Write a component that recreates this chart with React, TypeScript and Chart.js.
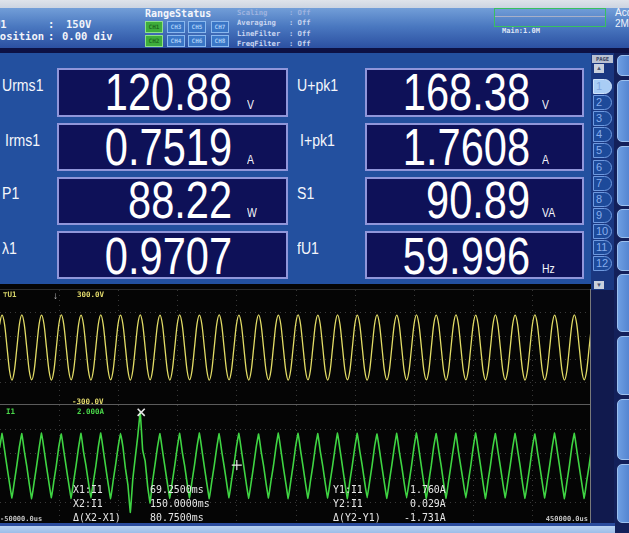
import React, { useEffect, useRef } from "react";
import { Chart, registerables } from "chart.js";
Chart.register(...registerables);

// ---------- sampling grid (60 Hz, 8 samples / cycle) ----------
const SAMPLE_START_US = -52400;
const SAMPLE_STEP_US = 2083.3;
const X_MIN_US = -50000;
const X_MAX_US = 450000;
const X_TICK_STEP_US = 50000;

// ---------- waveform U1 (V) ----------
const VOLTAGE_U1 = [
  0, 119, 169, 121, 1, -120, -170, -119,
  -1, 120, 170, 119, 0, -121, -169, -120,
  1, 121, 169, 120, -1, -119, -170, -121,
  0, 120, 170, 121, 1, -120, -169, -119,
  -1, 119, 169, 120, 0, -121, -170, -120,
  1, 120, 170, 119, -1, -120, -169, -121,
  0, 121, 169, 120, 1, -119, -170, -120,
  -1, 120, 170, 121, 0, -120, -169, -119,
  1, 119, 169, 120, -1, -121, -170, -120,
  0, 120, 170, 119, 1, -120, -169, -121,
  -1, 121, 169, 120, 0, -119, -170, -120,
  1, 120, 170, 121, -1, -120, -169, -119,
  0, 119, 169, 120, 1, -121, -170, -120,
  -1, 120, 170, 119, 0, -120, -169, -121,
  1, 121, 169, 120, -1, -119, -170, -120,
  0, 120, 170, 121, 1, -120, -169, -119,
  -1, 119, 169, 120, 0, -121, -170, -120,
  1, 120, 170, 119, -1, -120, -169, -121,
  0, 121, 169, 120, 1, -119, -170, -120,
  -1, 120, 170, 121, 0, -120, -169, -119,
  1, 119, 169, 120, -1, -121, -170, -120,
  0, 120, 170, 119, 1, -120, -169, -121,
  -1, 121, 169, 120, 0, -119, -170, -120,
  1, 120, 170, 121, -1, -120, -169, -119,
  0, 119, 169, 120, 1, -121, -170, -120,
  -1, 120, 170, 119, 0, -120, -169, -121,
  1, 121, 169, 120, -1, -119, -170, -120,
  0, 120, 170, 121, 1, -120, -169, -119,
  -1, 119, 169, 120, 0, -121, -170, -120,
  1, 120, 170, 119, -1, -120, -169, -121,
  0, 120,
];

// ---------- waveform I1 (A) ----------
const CURRENT_I1 = [
  0.02, 0.60, 1.07, 0.52, -0.03, -0.56, -1.05, -0.50,
  0.04, 0.63, 1.06, 0.49, 0.00, -0.58, -1.07, -0.53,
  0.01, 0.59, 1.08, 0.54, -0.02, -0.55, -1.04, -0.49,
  0.03, 0.64, 1.05, 0.50, -0.04, -0.57, -1.06, -0.51,
  0.02, 0.61, 1.07, 0.47, 0.01, -0.54, -1.05, -0.52,
  0.00, 0.62, 1.08, 0.53, -0.03, -0.58, -1.07, -0.50,
  0.03, 0.60, 1.07, 0.62, -0.08, -0.62, -1.52, -0.42,
  0.28, 0.98, 1.76, 0.52, 0.16, -0.66, -1.21, -0.50,
  0.05, 0.63, 1.06, 0.51, -0.02, -0.56, -1.06, -0.52,
  0.02, 0.60, 1.07, 0.48, 0.01, -0.55, -1.05, -0.50,
  0.03, 0.62, 1.08, 0.53, -0.03, -0.57, -1.07, -0.51,
  0.01, 0.59, 1.06, 0.50, 0.00, -0.54, -1.04, -0.49,
  0.04, 0.63, 1.07, 0.52, -0.02, -0.58, -1.06, -0.53,
  0.02, 0.61, 1.05, 0.49, 0.01, -0.56, -1.05, -0.50,
  0.00, 0.60, 1.08, 0.54, -0.03, -0.55, -1.07, -0.52,
  0.03, 0.64, 1.07, 0.51, -0.01, -0.57, -1.06, -0.50,
  0.02, 0.62, 1.06, 0.48, 0.00, -0.56, -1.05, -0.51,
  0.01, 0.59, 1.08, 0.53, -0.02, -0.58, -1.07, -0.49,
  0.04, 0.61, 1.07, 0.50, 0.01, -0.54, -1.04, -0.52,
  0.02, 0.63, 1.05, 0.52, -0.03, -0.57, -1.06, -0.50,
  0.03, 0.60, 1.07, 0.49, 0.00, -0.55, -1.05, -0.53,
  0.01, 0.62, 1.08, 0.54, -0.02, -0.58, -1.07, -0.51,
  0.02, 0.64, 1.06, 0.51, 0.01, -0.56, -1.06, -0.50,
  0.04, 0.59, 1.07, 0.48, -0.03, -0.54, -1.05, -0.52,
  0.00, 0.61, 1.08, 0.53, 0.00, -0.57, -1.07, -0.49,
  0.03, 0.63, 1.06, 0.50, -0.01, -0.56, -1.04, -0.51,
  0.02, 0.60, 1.07, 0.52, 0.01, -0.58, -1.06, -0.53,
  0.01, 0.62, 1.05, 0.49, -0.02, -0.55, -1.05, -0.50,
  0.03, 0.61, 1.08, 0.54, 0.00, -0.57, -1.07, -0.52,
  0.02, 0.64, 1.07, 0.51, -0.03, -0.56, -1.06, -0.50,
  0.02, 0.61,
];

// ---------- cursors ----------
const CURSOR_X_MS = [69.25, 150.0];
const CURSOR_Y_A = [1.76, 0.029];

// ---------- numeric display ----------
const LEFT_LABELS = ["Urms1", "Irms1", "P1", "\u03bb1"];
const LEFT_VALUES = ["120.88", "0.7519", "88.22", "0.9707"];
const LEFT_UNITS = ["V", "A", "W", ""];
const RIGHT_LABELS = ["U+pk1", "I+pk1", "S1", "fU1"];
const RIGHT_VALUES = ["168.38", "1.7608", "90.89", "59.996"];
const RIGHT_UNITS = ["V", "A", "VA", "Hz"];
const PAGE_NUMBERS = ["1", "2", "3", "4", "5", "6", "7", "8", "9", "10", "11", "12"];
const CHANNELS = [["CH1", "CH3", "CH5", "CH7"], ["CH2", "CH4", "CH6", "CH8"]];
const STATUS_LINES = ["Scaling     : Off", "Averaging   : Off", "LineFilter  : Off", "FreqFilter  : Off"];

const MONO = '"DejaVu Sans Mono", monospace';
const SANS = '"Liberation Sans", Arial, sans-serif';

type WaveProps = {
  values: number[];
  color: string;
  lineWidth: number;
  yMin: number;
  yMax: number;
  yStep: number;
  left: number;
  top: number;
  width: number;
  height: number;
  monotone: boolean;
  withCursors?: boolean;
};

function WaveChart(p: WaveProps) {
  const ref = useRef<HTMLCanvasElement>(null);
  useEffect(() => {
    const data = p.values.map((v, i) => ({ x: SAMPLE_START_US + i * SAMPLE_STEP_US, y: v }));
    const gridColor = (min: number, max: number) => (c: any) => {
      const v = c.tick ? c.tick.value : null;
      if (v === null || v === min || v === max) return "rgba(0,0,0,0)";
      return "rgba(140,140,140,0.38)";
    };
    const datasets: any[] = [
      {
        data,
        borderColor: p.color,
        borderWidth: p.lineWidth,
        pointRadius: 0,
        fill: false,
        tension: p.monotone ? 0.4 : 0.08,
        cubicInterpolationMode: p.monotone ? "monotone" : "default",
        order: 2,
      },
    ];
    if (p.withCursors) {
      datasets.push({
        data: [{ x: CURSOR_X_MS[0] * 1000, y: CURSOR_Y_A[0] }],
        showLine: false,
        pointStyle: "crossRot",
        pointRadius: 5,
        pointBorderWidth: 1.6,
        pointBorderColor: "#e8e8e8",
        borderColor: "#e8e8e8",
        order: 1,
      });
      datasets.push({
        data: [{ x: CURSOR_X_MS[1] * 1000, y: CURSOR_Y_A[1] }],
        showLine: false,
        pointStyle: "cross",
        pointRadius: 5,
        pointBorderWidth: 1.2,
        pointBorderColor: "#e8e8e8",
        borderColor: "#e8e8e8",
        order: 1,
      });
    }
    const chart = new Chart(ref.current as HTMLCanvasElement, {
      type: "line",
      data: { datasets },
      options: {
        animation: false,
        responsive: false,
        devicePixelRatio: 1,
        events: [],
        layout: { padding: 0, autoPadding: false } as any,
        plugins: { legend: { display: false }, tooltip: { enabled: false } },
        scales: {
          x: {
            type: "linear",
            min: X_MIN_US,
            max: X_MAX_US,
            ticks: { display: false, stepSize: X_TICK_STEP_US },
            grid: { color: gridColor(X_MIN_US, X_MAX_US), drawTicks: false, lineWidth: 1 },
            border: { display: false, dash: [1, 4] },
            afterFit: (s: any) => {
              s.height = 0;
            },
          },
          y: {
            type: "linear",
            min: p.yMin,
            max: p.yMax,
            ticks: { display: false, stepSize: p.yStep },
            grid: { color: gridColor(p.yMin, p.yMax), drawTicks: false, lineWidth: 1 },
            border: { display: false, dash: [1, 4] },
            afterFit: (s: any) => {
              s.width = 0;
            },
          },
        },
      } as any,
    });
    return () => chart.destroy();
  }, []);
  return (
    <canvas
      ref={ref}
      width={p.width}
      height={p.height}
      style={{ position: "absolute", left: p.left, top: p.top, width: p.width, height: p.height }}
    />
  );
}

function Txt(props: {
  x: number;
  base: number;
  size: number;
  color: string;
  font?: string;
  weight?: number | string;
  sx?: number;
  children: React.ReactNode;
  right?: boolean;
  z?: number;
}) {
  const top = props.base - 0.846 * props.size;
  const style: React.CSSProperties = {
    position: "absolute",
    top,
    fontSize: props.size,
    lineHeight: props.size + "px",
    color: props.color,
    fontFamily: props.font || SANS,
    fontWeight: (props.weight as any) || 400,
    whiteSpace: "pre",
    transform: props.sx ? `scaleX(${props.sx})` : undefined,
    transformOrigin: props.right ? "right" : "left",
    zIndex: props.z || 5,
  };
  if (props.right) {
    style.right = 629 - props.x;
    style.textAlign = "right";
  } else {
    style.left = props.x;
  }
  return <div style={style}>{props.children}</div>;
}

function Box(props: { x: number; y: number; w: number; h: number; style?: React.CSSProperties; children?: React.ReactNode }) {
  return (
    <div
      style={{
        position: "absolute",
        left: props.x,
        top: props.y,
        width: props.w,
        height: props.h,
        boxSizing: "border-box",
        ...props.style,
      }}
    >
      {props.children}
    </div>
  );
}

const BOX_TOPS = [68, 123, 177, 231];
const BOX_H = [49, 48, 48, 48];
const VALUE_BASE = [110, 165, 218, 274];
const LABEL_BASE = [92, 147, 200, 255];

function Header() {
  return (
    <>
      <Box x={0} y={0} w={629} h={9} style={{ background: "linear-gradient(#dfe3ea,#c9d2e0)" }} />
      <Box x={0} y={8} w={629} h={41} style={{ background: "linear-gradient(#729ed8 0%,#4a78c0 45%,#2a4ea0 100%)" }} />
      <Box x={0} y={48} w={629} h={5} style={{ background: "#0d1144" }} />
      <Txt x={-6} base={28} size={10.5} color="#f2f4fa" font={MONO} weight={700}>U1</Txt>
      <Txt x={48} base={28} size={10.5} color="#f2f4fa" font={MONO} weight={700}>:</Txt>
      <Txt x={66} base={28} size={10.5} color="#f2f4fa" font={MONO} weight={700}>150V</Txt>
      <Txt x={-6.5} base={40} size={10.5} color="#f2f4fa" font={MONO} weight={700}>Position</Txt>
      <Txt x={48} base={40} size={10.5} color="#f2f4fa" font={MONO} weight={700}>:</Txt>
      <Txt x={62} base={40} size={10.5} color="#f2f4fa" font={MONO} weight={700}>0.00 div</Txt>
      <Txt x={145} base={17} size={10} color="#f4f6fb" font={MONO} weight={700}>RangeStatus</Txt>
      {CHANNELS.map((row, r) =>
        row.map((ch, c) => {
          const on = c === 0;
          return (
            <Box
              key={ch}
              x={[145, 167, 188, 211][c]}
              y={[21, 35][r]}
              w={18}
              h={12}
              style={{
                background: on ? "#3eae3c" : "#3a76c6",
                border: on ? "1px solid #8fe08a" : "1px solid #8ab8ee",
                fontFamily: MONO,
                fontSize: 6,
                lineHeight: "10px",
                color: on ? "#1e6a20" : "#a8cdf6",
                textAlign: "center",
                fontWeight: 700,
              }}
            >
              {ch}
            </Box>
          );
        })
      )}
      {STATUS_LINES.map((s, i) => (
        <Txt key={s} x={237} base={15 + i * 10.3} size={7.2} color={i === 0 ? "#9fb4e0" : "#c9d5f0"} font={MONO} weight={700}>
          {s}
        </Txt>
      ))}
      <Box x={494} y={8} w={112} h={19} style={{ border: "1px solid #38c060" }} />
      <Box x={495} y={16} w={110} h={1} style={{ background: "#a8b0c8" }} />
      <Txt x={502} base={34} size={7} color="#dfe6f6" font={MONO} weight={700}>Main:1.0M</Txt>
      <Txt x={615} base={16} size={10} color="#f0f3fa" font={SANS}>Acq</Txt>
      <Txt x={615} base={27} size={10} color="#f0f3fa" font={SANS}>2M</Txt>
    </>
  );
}

function MeasurePanel() {
  return (
    <>
      <Box x={0} y={53} w={592} h={232} style={{ background: "#23509f" }} />
      {LEFT_LABELS.map((lab, i) => (
        <React.Fragment key={"L" + i}>
          <Txt x={i === 1 ? 5 : 2} base={LABEL_BASE[i]} size={16} color="#f4f6fb" sx={0.88}>{lab}</Txt>
          <Box x={57} y={BOX_TOPS[i]} w={231} h={BOX_H[i]} style={{ background: "#0e1158", border: "2px solid #9096da" }} />
          <Txt x={232} base={VALUE_BASE[i]} size={52} color="#ffffff" sx={0.8} right>{LEFT_VALUES[i]}</Txt>
          <Txt x={247} base={VALUE_BASE[i] - 1} size={13} color="#f4f6fb" sx={0.8}>{LEFT_UNITS[i]}</Txt>
        </React.Fragment>
      ))}
      {RIGHT_LABELS.map((lab, i) => (
        <React.Fragment key={"R" + i}>
          <Txt x={i === 1 ? 300 : 297} base={LABEL_BASE[i]} size={16} color="#f4f6fb" sx={0.88}>{lab}</Txt>
          <Box x={365} y={BOX_TOPS[i]} w={219} h={BOX_H[i]} style={{ background: "#0e1158", border: "2px solid #9096da" }} />
          <Txt x={530} base={VALUE_BASE[i]} size={52} color="#ffffff" sx={0.8} right>{RIGHT_VALUES[i]}</Txt>
          <Txt x={542} base={VALUE_BASE[i] - 1} size={13} color="#f4f6fb" sx={0.8}>{RIGHT_UNITS[i]}</Txt>
        </React.Fragment>
      ))}
    </>
  );
}

function PageColumn() {
  return (
    <>
      <Box x={591} y={53} w={23} h={237} style={{ background: "#1a3780" }} />
      <Box x={592} y={55} w={21} h={8} style={{ background: "#b9c1d2", fontSize: 5.5, fontFamily: MONO, lineHeight: "8px", color: "#3a4460", textAlign: "center", fontWeight: 700 }}>
        PAGE
      </Box>
      <Box x={594} y={64} w={10} h={9} style={{ background: "#c8d0dd", fontSize: 6, lineHeight: "9px", color: "#4a5570", textAlign: "center" }}>
        ▲
      </Box>
      {PAGE_NUMBERS.map((n, i) => {
        const sel = i === 0;
        return (
          <Box
            key={n}
            x={593}
            y={Math.round(79 + i * 16.1)}
            w={19}
            h={15}
            style={{
              background: sel ? "#a9cdf5" : "#1d4a9a",
              border: sel ? "1px solid #cfe3fb" : "1px solid #6f9ae0",
              borderRadius: "0 8px 8px 0",
              fontFamily: SANS,
              fontSize: 11,
              lineHeight: "13px",
              color: sel ? "#7fa3dc" : "#86acec",
              paddingLeft: 2,
            }}
          >
            {n}
          </Box>
        );
      })}
      <Box x={594} y={281} w={10} h={8} style={{ background: "#c8d0dd", fontSize: 6, lineHeight: "8px", color: "#4a5570", textAlign: "center" }}>
        ▼
      </Box>
      <Box x={591} y={290} w={24} h={243} style={{ background: "#111a4e" }} />
    </>
  );
}

const SIDE_BUTTONS = [
  [55, 21],
  [80, 62],
  [146, 60],
  [209, 29],
  [241, 30],
  [274, 58],
  [336, 59],
  [399, 61],
  [464, 59],
];

function SideButtons() {
  return (
    <>
      <Box x={614} y={53} w={15} h={480} style={{ background: "#13205a" }} />
      {SIDE_BUTTONS.map(([t, h], i) => (
        <Box
          key={i}
          x={617}
          y={t}
          w={20}
          h={h}
          style={{
            background: "linear-gradient(90deg,#6e9ee2,#4576c6)",
            border: "1px solid #9cc0ee",
            borderRadius: "5px 0 0 5px",
          }}
        />
      ))}
    </>
  );
}

function WavePanel() {
  const xs = CURSOR_X_MS;
  const ys = CURSOR_Y_A;
  return (
    <>
      <Box x={0} y={284} w={591} h={241} style={{ background: "#050505", overflow: "hidden" }} />
      <div style={{ position: "absolute", left: 0, top: 0, width: 590, height: 533, overflow: "hidden", zIndex: 2 }}>
        <WaveChart values={VOLTAGE_U1} color="#e2dc66" lineWidth={1.3} yMin={-300} yMax={300} yStep={120} left={0} top={290} width={592} height={115} monotone />
        <WaveChart values={CURRENT_I1} color="#3fd443" lineWidth={1.6} yMin={-2} yMax={2} yStep={0.8} left={0} top={405} width={592} height={122} monotone={false} withCursors />
      </div>
      <Box x={0} y={289} w={590} h={1} style={{ background: "#2c2c2c", zIndex: 3 }} />
      <Box x={0} y={404} w={590} h={1} style={{ background: "#5c5c5c", zIndex: 3 }} />
      <Box x={590} y={289} w={1} h={236} style={{ background: "#7a7a7a", zIndex: 3 }} />
      <Txt x={3} base={297} size={7.5} color="#d8d66a" font={MONO} weight={700}>⊤U1</Txt>
      <Txt x={53} base={299} size={10} color="#c8c8c8" font={SANS}>↓</Txt>
      <Txt x={77} base={297} size={7.5} color="#e4dc6c" font={MONO} weight={700}>300.0V</Txt>
      <Txt x={72} base={404} size={7.5} color="#e4dc6c" font={MONO} weight={700}>-300.0V</Txt>
      <Txt x={77} base={414} size={7.5} color="#4ad84a" font={MONO} weight={700}>2.000A</Txt>
      <Txt x={6} base={414} size={7.5} color="#4ad84a" font={MONO} weight={700}>I1</Txt>
      <Txt x={0} base={522} size={7} color="#c4c4c4" font={MONO} weight={700}>-50000.0us</Txt>
      <Txt x={588} base={522} size={7} color="#c4c4c4" font={MONO} weight={700} right>450000.0us</Txt>

      <Txt x={73} base={493} size={11} color="#e6e6e6" font={MONO} sx={0.9}>X1:I1</Txt>
      <Txt x={150} base={493} size={11} color="#e6e6e6" font={MONO} sx={0.9}>{xs[0].toFixed(4) + "ms"}</Txt>
      <Txt x={73} base={507} size={11} color="#e6e6e6" font={MONO} sx={0.9}>X2:I1</Txt>
      <Txt x={150} base={507} size={11} color="#e6e6e6" font={MONO} sx={0.9}>{xs[1].toFixed(4) + "ms"}</Txt>
      <Txt x={73} base={521} size={11} color="#e6e6e6" font={MONO} sx={0.9}>Δ(X2-X1)</Txt>
      <Txt x={150} base={521} size={11} color="#e6e6e6" font={MONO} sx={0.9}>{(xs[1] - xs[0]).toFixed(4) + "ms"}</Txt>

      <Txt x={333} base={493} size={11} color="#e6e6e6" font={MONO} sx={0.9}>Y1:I1</Txt>
      <Txt x={410} base={493} size={11} color="#e6e6e6" font={MONO} sx={0.9}>{ys[0].toFixed(3) + "A"}</Txt>
      <Txt x={333} base={507} size={11} color="#e6e6e6" font={MONO} sx={0.9}>Y2:I1</Txt>
      <Txt x={410} base={507} size={11} color="#e6e6e6" font={MONO} sx={0.9}>{ys[1].toFixed(3) + "A"}</Txt>
      <Txt x={333} base={521} size={11} color="#e6e6e6" font={MONO} sx={0.9}>Δ(Y2-Y1)</Txt>
      <Txt x={404} base={521} size={11} color="#e6e6e6" font={MONO} sx={0.9}>{(ys[1] - ys[0]).toFixed(3) + "A"}</Txt>
    </>
  );
}

function BottomStrip() {
  return (
    <>
      <Box x={0} y={523} w={615} h={3} style={{ background: "#2b4c9e", zIndex: 6 }} />
      <Box x={0} y={526} w={615} h={7} style={{ background: "linear-gradient(#b9d2f2,#9dbde8)", zIndex: 6 }} />
    </>
  );
}

export default function App() {
  return (
    <div
      style={{
        position: "fixed",
        left: 0,
        top: 0,
        width: 629,
        height: 533,
        overflow: "hidden",
        background: "#121a4c",
        fontFamily: SANS,
      }}
    >
      <Header />
      <MeasurePanel />
      <PageColumn />
      <SideButtons />
      <WavePanel />
      <BottomStrip />
    </div>
  );
}
